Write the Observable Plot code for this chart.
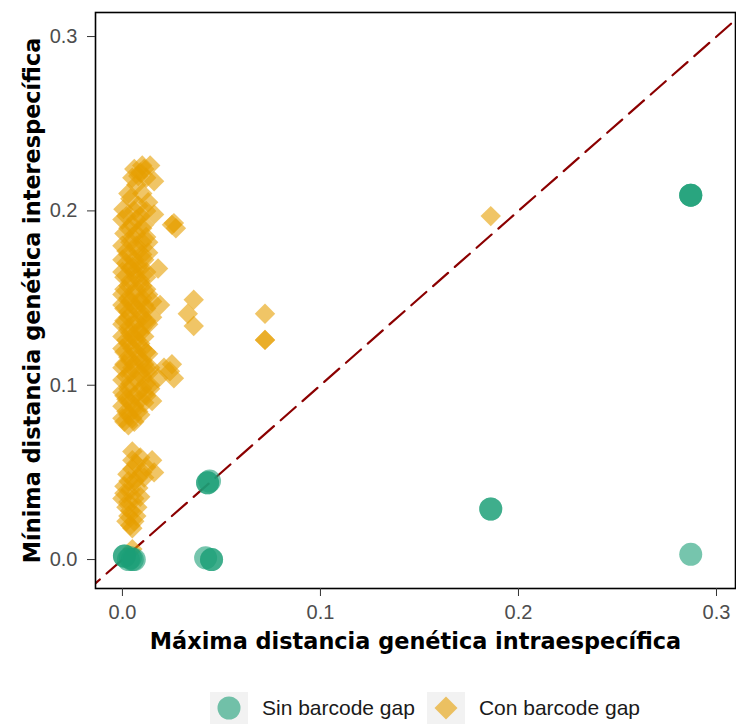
<!DOCTYPE html>
<html><head><meta charset="utf-8">
<script src="https://cdn.jsdelivr.net/npm/d3@7"></script>
<script src="https://cdn.jsdelivr.net/npm/@observablehq/plot@0.6"></script>
<style>
body{margin:0;background:#fff;font-family:"Liberation Sans",Arial,sans-serif;}
#chart svg{display:block;font-family:"Liberation Sans",Arial,sans-serif;}
g[aria-label$="tick label"]{fill:#4D4D4D;}
g[aria-label$="axis tick"]{stroke:#333333;}
#legend{display:flex;justify-content:center;align-items:center;margin-top:30px;height:32px;font-size:21px;color:#1A1A1A;padding-left:114px;}
#legend .item{display:flex;align-items:center;margin:0 6px;}
#legend .key{width:38px;height:32px;background:#F2F2F2;display:flex;align-items:center;justify-content:center;margin-right:14px;}
</style></head><body>
<div id="chart"></div>
<div id="legend"></div>
<script>
// Series labels
const seriesNames = ["Sin barcode gap", "Con barcode gap"];
// "Sin barcode gap" points (max intra, min inter)
const sinX = [0.287,0.287,0.287,0.287,0.186,0.186,0.043,0.043,0.044,0.042,0.045,0.045,0.001,0.001,0.004,0.005,0.006,0.003];
const sinY = [0.209,0.209,0.209,0.003,0.029,0.029,0.044,0.044,0.045,0.001,0.000,0.000,0.002,0.002,0.001,0.000,0.000,0.000];
// "Con barcode gap" points
const conX = [
 0.005,0.009,0.014,0.011,0.016,0.007,0.013,0.0005,0.004,0.008,
 0.002,0.009,0.005,0.011,0.001,0.007,0.004,0.010,0.013,0.002,0.008,
 0.000,0.006,0.011,0.004,0.009,0.018,0.001,0.007,0.012,0.003,0.010,
 0.000,0.006,0.013,0.004,0.009,0.015,0.001,0.007,0.012,0.003,0.010,
 0.000,0.006,0.013,0.004,0.009,0.002,0.007,0.000,0.005,0.010,0.003,0.008,
 0.001,0.006,0.011,0.004,0.009,0.013,0.000,0.007,0.003,0.010,0.014,
 0.001,0.006,0.004,0.011,0.002,0.008,0.000,0.005,0.003,
 0.003,0.010,0.006,0.012,0.000,0.007,0.003,0.010,0.005,0.012,0.000,0.007,
 0.003,0.010,0.008,0.002,0.000,0.006,0.012,0.004,0.009,0.001,0.007,0.012,
 0.003,0.010,0.000,0.005,0.011,0.003,0.009,0.001,0.007,0.012,0.003,0.010,
 0.000,0.005,0.011,0.003,0.009,0.001,0.007,0.012,0.004,0.010,0.000,0.005,
 0.012,0.002,0.010,0.004,0.012,0.000,0.008,0.002,0.009,0.000,0.006,0.003,
 0.009,0.001,0.006,
 0.008,0.012,0.006,0.010,
 0.013,0.014,0.012,0.015,0.013,0.006,0.008,0.005,
 0.016,0.019,
 0.024,0.018,0.026,0.015,0.021,0.014,0.025,
 0.026,0.027,0.025,
 0.036,0.033,0.036,
 0.072,0.072,0.072,
 0.186,
 0.009,0.015,0.016,0.0025,0.012,0.007,0.004,0.000,0.0075,0.003,0.004,0.006,0.009,0.002,0.005,
 0.005,0.005,0.011,0.001,0.008,0.003,0.006,
 0.005,0.010,0.003,0.008,0.001,0.006,0.004,0.007,0.002,0.005
];
const conY = [
 0.219,0.222,0.226,0.224,0.217,0.215,0.205,0.201,0.207,0.203,
 0.197,0.197,0.192,0.192,0.187,0.187,0.182,0.182,0.182,0.177,0.177,
 0.172,0.172,0.172,0.167,0.167,0.167,0.162,0.162,0.162,0.157,0.157,
 0.152,0.152,0.152,0.148,0.148,0.148,0.144,0.144,0.144,0.139,0.139,
 0.135,0.135,0.135,0.130,0.130,0.126,0.126,0.121,0.121,0.121,0.116,0.116,
 0.112,0.112,0.112,0.107,0.107,0.107,0.103,0.103,0.098,0.098,0.098,
 0.094,0.094,0.090,0.090,0.085,0.085,0.081,0.081,0.077,
 0.210,0.210,0.200,0.200,0.195,0.195,0.190,0.190,0.185,0.185,0.180,0.180,
 0.175,0.175,0.170,0.170,0.165,0.165,0.165,0.160,0.160,0.155,0.155,0.155,
 0.150,0.150,0.146,0.146,0.146,0.142,0.142,0.137,0.137,0.137,0.133,0.133,
 0.128,0.128,0.128,0.124,0.124,0.119,0.119,0.119,0.114,0.114,0.110,0.110,
 0.110,0.105,0.105,0.101,0.101,0.096,0.096,0.092,0.092,0.088,0.088,0.083,
 0.083,0.079,0.079,
 0.220,0.219,0.224,0.226,
 0.118,0.100,0.094,0.139,0.176,0.086,0.131,0.168,
 0.198,0.146,
 0.108,0.104,0.104,0.091,0.110,0.110,0.112,
 0.193,0.190,0.192,
 0.149,0.141,0.134,
 0.141,0.126,0.126,
 0.197,
 0.0585,0.057,0.050,0.049,0.053,0.055,0.040,0.035,0.030,0.025,0.0195,0.045,0.036,0.030,0.006,
 0.062,0.052,0.047,0.042,0.041,0.033,0.022,
 0.057,0.050,0.045,0.047,0.038,0.035,0.028,0.025,0.022,0.018
];
// reference line y = x, extent
const diagonal = [-0.03, 0.33];
const xTicks = [0, 0.1, 0.2, 0.3];
const yTicks = [0, 0.1, 0.2, 0.3];
const xTitle = "Máxima distancia genética intraespecífica";
const yTitle = "Mínima distancia genética interespecífica";

const sin = sinX.map((x, i) => ({x, y: sinY[i]}));
const con = conX.map((x, i) => ({x, y: conY[i]}));

const green = "#1B9E77", orange = "#E69F00";
const titleFont = "DejaVu Sans, Verdana, sans-serif";

const chart = Plot.plot({
  width: 736, height: 662,
  marginLeft: 95, marginRight: 1, marginTop: 12, marginBottom: 74,
  x: {domain: [-0.0136, 0.3096]},
  y: {domain: [-0.0166, 0.3138]},
  marks: [
    Plot.line(diagonal, {x: d => d, y: d => d, stroke: "#8B0000", strokeWidth: 2.2, strokeDasharray: "20,9", clip: true}),
    Plot.dot(con, {x: "x", y: "y", symbol: "diamond2", r: 9.2, fill: orange, fillOpacity: 0.6, stroke: "none"}),
    Plot.dot(sin, {x: "x", y: "y", r: 11.5, fill: green, fillOpacity: 0.6, stroke: "none"}),
    Plot.frame({stroke: "black", strokeWidth: 1.6}),
    Plot.axisX({ticks: xTicks, tickFormat: ".1f", tickSize: 8, tickPadding: 8, fontSize: 20, label: null}),
    Plot.axisY({ticks: yTicks, tickFormat: ".1f", tickSize: 8, tickPadding: 10, fontSize: 20, label: null}),
    Plot.text([xTitle], {text: d => d, frameAnchor: "bottom", dy: 60, fontSize: 22.4, fontWeight: "bold", fontFamily: titleFont, fill: "black", textAnchor: "middle"}),
    Plot.text([yTitle], {text: d => d, frameAnchor: "left", dx: -63, rotate: -90, fontSize: 22.4, fontWeight: "bold", fontFamily: titleFont, fill: "black", textAnchor: "middle"})
  ]
});
document.getElementById("chart").appendChild(chart);

const legend = document.getElementById("legend");
const keys = [
  `<svg width="24" height="24"><circle cx="12" cy="12" r="11.5" fill="${green}" fill-opacity="0.6"/></svg>`,
  `<svg width="24" height="24"><path d="M12,0.5L23.5,12L12,23.5L0.5,12Z" fill="${orange}" fill-opacity="0.6"/></svg>`
];
seriesNames.forEach((name, i) => {
  const item = document.createElement("div");
  item.className = "item";
  item.innerHTML = `<div class="key">${keys[i]}</div><span>${name}</span>`;
  legend.appendChild(item);
});
</script>
</body></html>
